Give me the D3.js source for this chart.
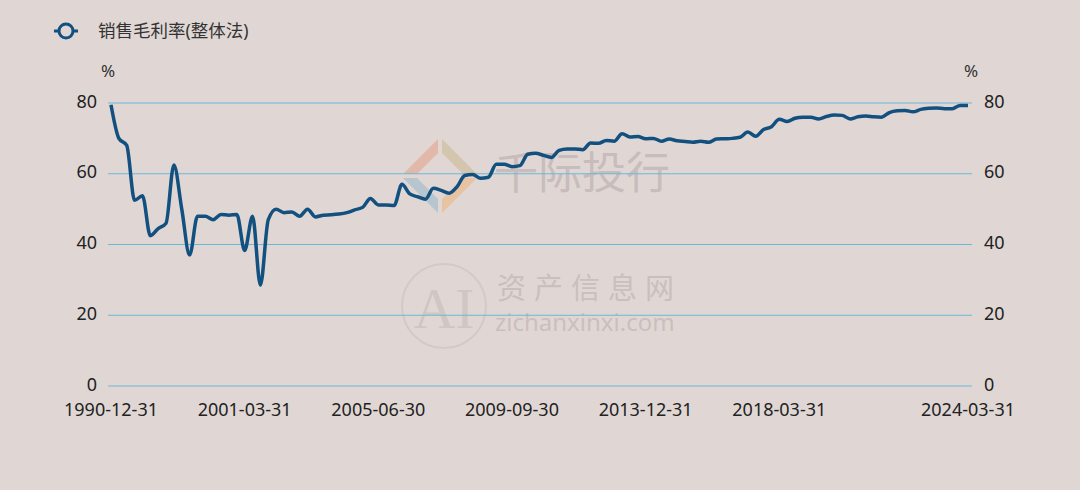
<!DOCTYPE html>
<html><head><meta charset="utf-8">
<script src="https://cdn.jsdelivr.net/npm/d3@7/dist/d3.min.js"></script>
<style>
html,body{margin:0;padding:0;background:#e0d7d4;}
svg{display:block;font-family:"Noto Sans","Noto Sans CJK SC",sans-serif;}
</style></head>
<body>
<svg id="chart" width="1080" height="490"></svg>
<script>
const seriesName = "销售毛利率(整体法)";
const earlyDates = ["1990-12-31","1991-12-31","1992-12-31","1993-12-31","1994-12-31","1995-12-31","1996-12-31",
  "1997-06-30","1997-12-31","1998-06-30","1998-12-31","1999-06-30","1999-12-31",
  "2000-03-31","2000-06-30","2000-09-30","2000-12-31"];
const quarterEnds = ["03-31","06-30","09-30","12-31"];
const categories = earlyDates.slice();
for (let y = 2001; y <= 2024; y++) for (const q of quarterEnds) { if (categories.length < 110) categories.push(y + "-" + q); }
const values = [79.5,70,68,52.5,53.8,42.5,44.5,46,62.5,50,
  37,48,48,47,48.5,48.3,48.5,38.3,48,28.5,
  47,50,49,49.2,48,50,47.8,48.3,48.4,48.6,
  49,49.8,50.5,53,51.2,51.2,51,57,54.3,53.5,
  52.8,55.9,55.3,54.5,56.3,59.5,59.8,58.7,59,62.7,
  62.7,62,62.3,65.5,65.8,65.2,64.6,66.6,67,67,
  66.8,68.7,68.6,69.4,69.2,71.3,70.4,70.5,69.9,70,
  69.2,69.8,69.3,69.1,68.9,69.2,68.9,69.8,69.9,70,
  70.3,71.8,70.6,72.5,73.3,75.4,74.8,75.7,76,76,
  75.5,76.2,76.6,76.5,75.5,76.1,76.3,76.1,76,77.3,
  77.8,77.9,77.5,78.2,78.5,78.6,78.4,78.4,79.3,79.3];
const yTicks = [0,20,40,60,80];
const xLabels = ["1990-12-31","2001-03-31","2005-06-30","2009-09-30","2013-12-31","2018-03-31","2024-03-31"];

const svg = d3.select("#chart");
const x = d3.scalePoint().domain(categories).range([111, 968]);
const y = d3.scaleLinear().domain([0, 80]).range([386, 103]);

// watermarks
const wm = svg.append("g");
const lg = wm.append("g").attr("transform","translate(440,176)").attr("opacity",0.5);
lg.append("path").attr("d","M-2,-37 L-37,-2 L-23,-2 L-2,-23 Z").attr("fill","#e49a80");
lg.append("path").attr("d","M2,-37 L37,-2 L23,-2 L2,-23 Z").attr("fill","#c9b58a");
lg.append("path").attr("d","M-2,37 L-37,2 L-23,2 L-2,23 Z").attr("fill","#8fb4cc");
lg.append("path").attr("d","M2,37 L37,2 L23,2 L2,23 Z").attr("fill","#eeb070");
wm.append("text").attr("x",494).attr("y",189).attr("font-size",44).attr("fill","#c4b8b8").attr("opacity",0.85).text("千际投行");
wm.append("circle").attr("cx",444).attr("cy",306).attr("r",42).attr("fill","none").attr("stroke","#d4c9c6").attr("stroke-width",2);
wm.append("text").attr("x",444).attr("y",328).attr("text-anchor","middle").attr("font-size",58).attr("font-family","Liberation Serif,serif").attr("fill","#d2c6c3").text("AI");
wm.append("text").attr("x",497).attr("y",299).attr("font-size",29).attr("fill","#cbbfbd").attr("letter-spacing",8).text("资产信息网");
wm.append("text").attr("x",495).attr("y",331).attr("font-size",24).attr("fill","#cbbfbd").text("zichanxinxi.com");

// grid
svg.append("g").selectAll("line").data(yTicks).join("line")
  .attr("x1",108).attr("x2",972).attr("y1",d=>y(d)).attr("y2",d=>y(d))
  .attr("stroke","#6ab8d8").attr("stroke-width",1);

// y axis labels
svg.append("g").selectAll("text").data(yTicks).join("text")
  .attr("x",97).attr("y",d=>y(d)).attr("dy","0.25em").attr("text-anchor","end")
  .attr("font-size",18).attr("fill","#222").text(d=>d);
svg.append("g").selectAll("text").data(yTicks).join("text")
  .attr("x",984).attr("y",d=>y(d)).attr("dy","0.25em").attr("text-anchor","start")
  .attr("font-size",18).attr("fill","#222").text(d=>d);
svg.append("text").attr("x",108).attr("y",77).attr("text-anchor","middle").attr("font-size",17).attr("fill","#333").text("%");
svg.append("text").attr("x",971).attr("y",77).attr("text-anchor","middle").attr("font-size",17).attr("fill","#333").text("%");

// x axis labels
svg.append("g").selectAll("text").data(xLabels).join("text")
  .attr("x",d=>x(d)).attr("y",415.5).attr("text-anchor","middle")
  .attr("font-size",18).attr("fill","#222").text(d=>d);

// line
const line = d3.line().x((d,i)=>x(categories[i])).y(d=>y(d)).curve(d3.curveMonotoneX);
svg.append("path").datum(values).attr("d",line).attr("fill","none")
  .attr("stroke","#12507f").attr("stroke-width",3.5).attr("stroke-linejoin","round");

// legend
const leg = svg.append("g");
leg.append("line").attr("x1",54).attr("x2",78).attr("y1",31).attr("y2",31).attr("stroke","#12507f").attr("stroke-width",3);
leg.append("circle").attr("cx",66).attr("cy",31).attr("r",7).attr("fill","#e0d7d4").attr("stroke","#12507f").attr("stroke-width",3);
leg.append("text").attr("x",98).attr("y",31).attr("dy","0.36em").attr("font-size",17.5).attr("fill","#333").text(seriesName);
</script>
</body></html>
